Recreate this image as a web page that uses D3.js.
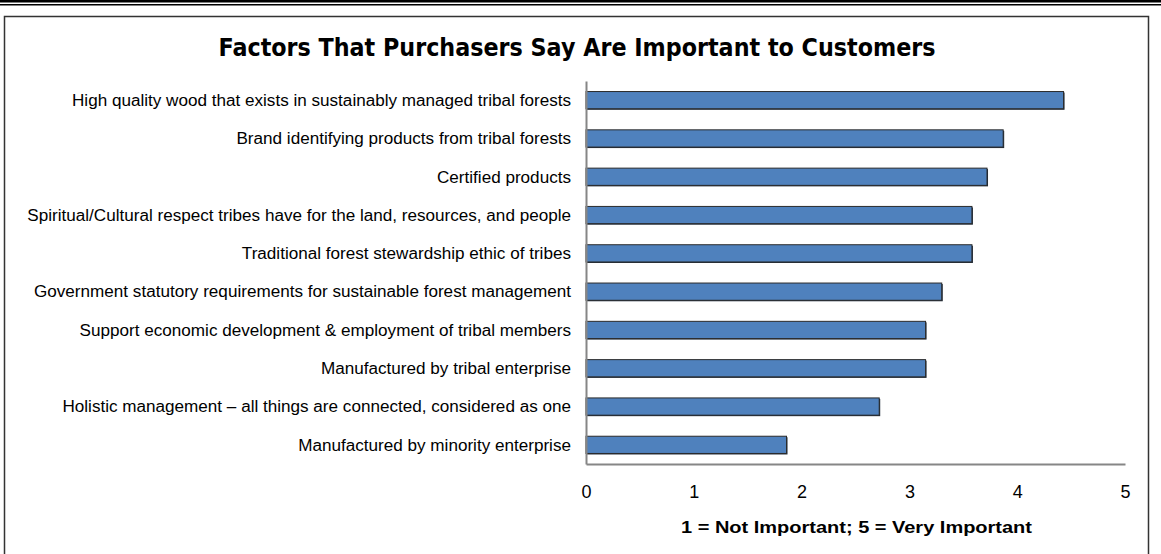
<!DOCTYPE html>
<html>
<head>
<meta charset="utf-8">
<script src="https://cdn.jsdelivr.net/npm/d3@7"></script>
<style>
  html, body { margin: 0; padding: 0; background: #fff; }
  svg { display: block; }
</style>
</head>
<body>
<div id="chart"></div>
<script>
// Survey factors, top to bottom
const categories = [
  "High quality wood that exists in sustainably managed tribal forests",
  "Brand identifying products from tribal forests",
  "Certified products",
  "Spiritual/Cultural respect tribes have for the land, resources, and people",
  "Traditional forest stewardship ethic of tribes",
  "Government statutory requirements for sustainable forest  management",
  "Support economic development & employment of tribal members",
  "Manufactured by tribal enterprise",
  "Holistic management \u2013 all things are connected, considered as one",
  "Manufactured by minority enterprise"
];
// Mean importance rating (1-5)
const ratings = [4.43, 3.87, 3.72, 3.58, 3.58, 3.30, 3.15, 3.15, 2.72, 1.86];
const tickValues = [0, 1, 2, 3, 4, 5];

const chartTitle = "Factors That Purchasers Say Are Important to Customers";
const axisTitle = "1 = Not Important; 5 = Very Important";

const W = 1161, H = 554;
const plot = { left: 586, right: 1125, top: 81, bottom: 464 };

const svg = d3.select("#chart").append("svg")
  .attr("width", W).attr("height", H);

// Squeeze text horizontally so the first item spans `target` px,
// applying the same squeeze to every item in the selection.
function condense(sel, target) {
  const nodes = sel.nodes();
  const k = target / nodes[0].getComputedTextLength();
  nodes.forEach(n => {
    const w = n.getComputedTextLength();
    d3.select(n).attr("textLength", w * k).attr("lengthAdjust", "spacingAndGlyphs");
  });
}

// Page rules above the chart frame
svg.append("rect").attr("x", 0).attr("y", 0).attr("width", W).attr("height", 2.5).attr("fill", "#000");
svg.append("rect").attr("x", 0).attr("y", 4).attr("width", W).attr("height", 1.5).attr("fill", "#000");

// Chart frame (runs off the bottom of the page)
svg.append("path")
  .attr("d", `M4.5,${H + 2} V16.5 H1148.5 V${H + 2}`)
  .attr("fill", "none").attr("stroke", "#333").attr("stroke-width", 1.5);

const x = d3.scaleLinear().domain([0, 5]).range([plot.left, plot.right]);
const y = d3.scaleBand().domain(categories).range([plot.top, plot.bottom]).paddingInner(0.55).paddingOuter(0.275);

const font = "'Liberation Sans', Arial, sans-serif";

// Title
const title = svg.append("text")
  .attr("x", 577).attr("y", 56)
  .attr("text-anchor", "middle")
  .attr("font-family", "'DejaVu Sans', Verdana, sans-serif")
  .attr("font-weight", "bold")
  .attr("font-size", 25)
  .attr("fill", "#000")
  .text(chartTitle);
condense(title, 717);

// Bars
const bars = svg.append("g");
bars.selectAll("rect.shadow")
  .data(ratings)
  .join("rect")
  .attr("class", "shadow")
  .attr("x", x(0) + 1)
  .attr("y", (d, i) => y(categories[i]) + 1)
  .attr("width", d => x(d) - x(0))
  .attr("height", y.bandwidth())
  .attr("fill", "#1e2a38");
bars.selectAll("rect.bar")
  .data(ratings)
  .join("rect")
  .attr("class", "bar")
  .attr("x", x(0))
  .attr("y", (d, i) => y(categories[i]))
  .attr("width", d => x(d) - x(0))
  .attr("height", y.bandwidth())
  .attr("fill", "#4f81bd")
  .attr("stroke", "#2b2b2b")
  .attr("stroke-width", 1);

// Category labels
const labels = svg.append("g").selectAll("text")
  .data(categories)
  .join("text")
  .attr("x", plot.left - 15)
  .attr("y", d => y(d) + y.bandwidth() / 2)
  .attr("dy", "0.36em")
  .attr("text-anchor", "end")
  .attr("font-family", font)
  .attr("font-size", 16)
  .attr("fill", "#000")
  .text(d => d);
condense(labels, 499);

// Axes
const xAxis = d3.axisBottom(x).tickValues(tickValues).tickSize(0).tickPadding(21).tickFormat(d3.format("d"));
const gx = svg.append("g").attr("transform", `translate(0,${plot.bottom})`).call(xAxis);
gx.select(".domain").attr("stroke", "#868686").attr("stroke-width", 2);
gx.selectAll("text").attr("font-family", font).attr("font-size", 18).attr("fill", "#000");

const yAxis = d3.axisLeft(y).tickSize(0).tickFormat("");
const gy = svg.append("g").attr("transform", `translate(${plot.left},0)`).call(yAxis);
gy.select(".domain").attr("stroke", "#868686").attr("stroke-width", 2);

// Axis title
const at = svg.append("text")
  .attr("x", (plot.left + plot.right) / 2 + 1)
  .attr("y", 533)
  .attr("text-anchor", "middle")
  .attr("font-family", font)
  .attr("font-weight", "bold")
  .attr("font-size", 16)
  .attr("fill", "#000")
  .text(axisTitle);
condense(at, 351);
</script>
</body>
</html>
